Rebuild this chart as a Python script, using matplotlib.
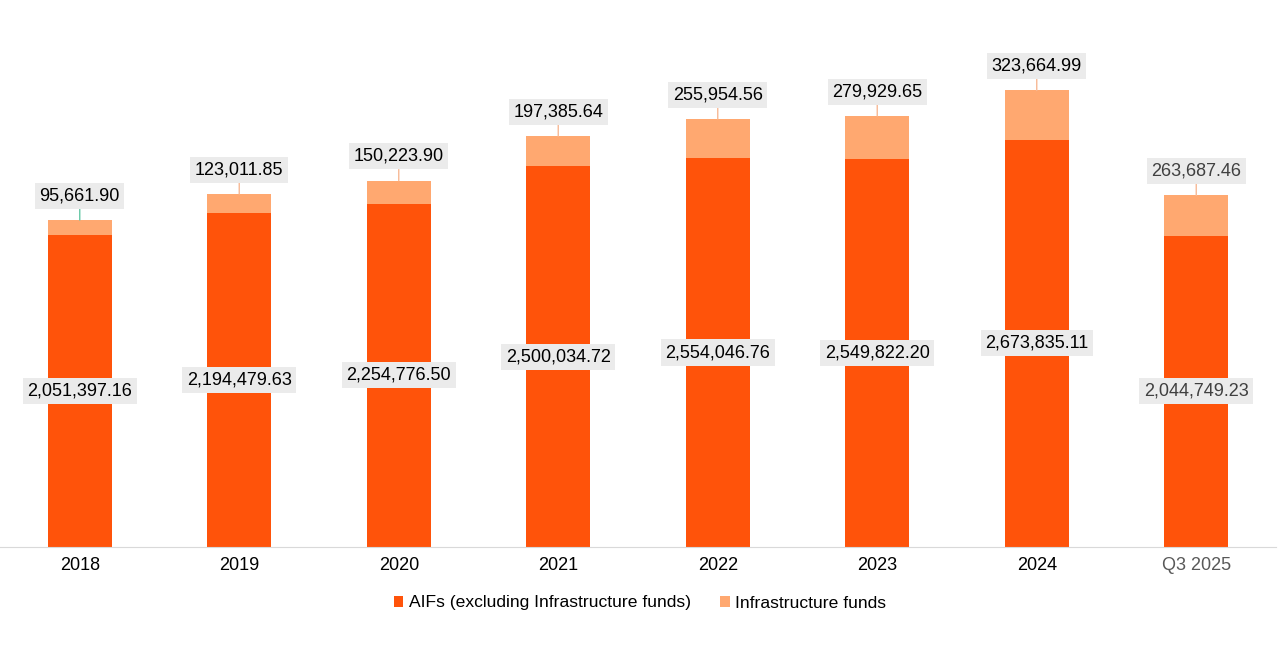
import numpy as np
import matplotlib.pyplot as plt

plt.rcParams['font.family'] = ['Liberation Sans', 'DejaVu Sans']

years = ["2018", "2019", "2020", "2021", "2022", "2023", "2024", "Q3 2025"]
aifs = [2051397.16, 2194479.63, 2254776.50, 2500034.72, 2554046.76,
        2549822.20, 2673835.11, 2044749.23]
infra = [95661.90, 123011.85, 150223.90, 197385.64, 255954.56,
         279929.65, 323664.99, 263687.46]

c_aif = "#ff530a"
c_infra = "#ffa870"
box = dict(boxstyle="square,pad=0.25", fc="#ebebeb", ec="none")

fig = plt.figure(figsize=(12.8, 6.7), dpi=100)
ax = fig.add_axes([0.0, 1 - 547 / 670, 1276 / 1280, 533 / 670])

x = np.arange(len(years))
ax.bar(x, aifs, width=0.4, color=c_aif, label="AIFs (excluding Infrastructure funds)")
ax.bar(x, infra, width=0.4, bottom=aifs, color=c_infra, label="Infrastructure funds")

for i in range(len(years)):
    col = "#404040" if years[i].startswith("Q") else "black"
    ax.text(x[i], aifs[i] / 2, f"{aifs[i]:,.2f}", ha="center", va="center",
            fontsize=13, color=col, bbox=box)
    top = aifs[i] + infra[i]
    lc = "#66c7a6" if i == 0 else "#f7b995"
    ax.annotate(f"{infra[i]:,.2f}", xy=(x[i], top), xytext=(0, 17.5),
                textcoords="offset points", ha="center", va="center",
                fontsize=13, color=col, bbox=box,
                arrowprops=dict(arrowstyle="-", color=lc, lw=1,
                                shrinkA=0, shrinkB=0))

ax.set_xlim(-0.5, len(years) - 0.5)
ax.set_ylim(0, 533 / 152.3 * 1e6)
ax.set_xticks(x)
ax.set_xticklabels(years, fontsize=13)
ax.get_xticklabels()[-1].set_color("#595959")
ax.tick_params(axis="x", length=0, pad=7)
ax.set_yticks([])
for s in ["top", "left", "right"]:
    ax.spines[s].set_visible(False)
ax.spines["bottom"].set_color("#d9d9d9")

ax.legend(loc="center", bbox_to_anchor=(640 / 1276, -56 / 533), ncol=2,
          frameon=False, fontsize=12.6, handlelength=0.55, handleheight=0.55,
          handletextpad=0.3, columnspacing=1.7)

fig.savefig("out.png", dpi=100)
